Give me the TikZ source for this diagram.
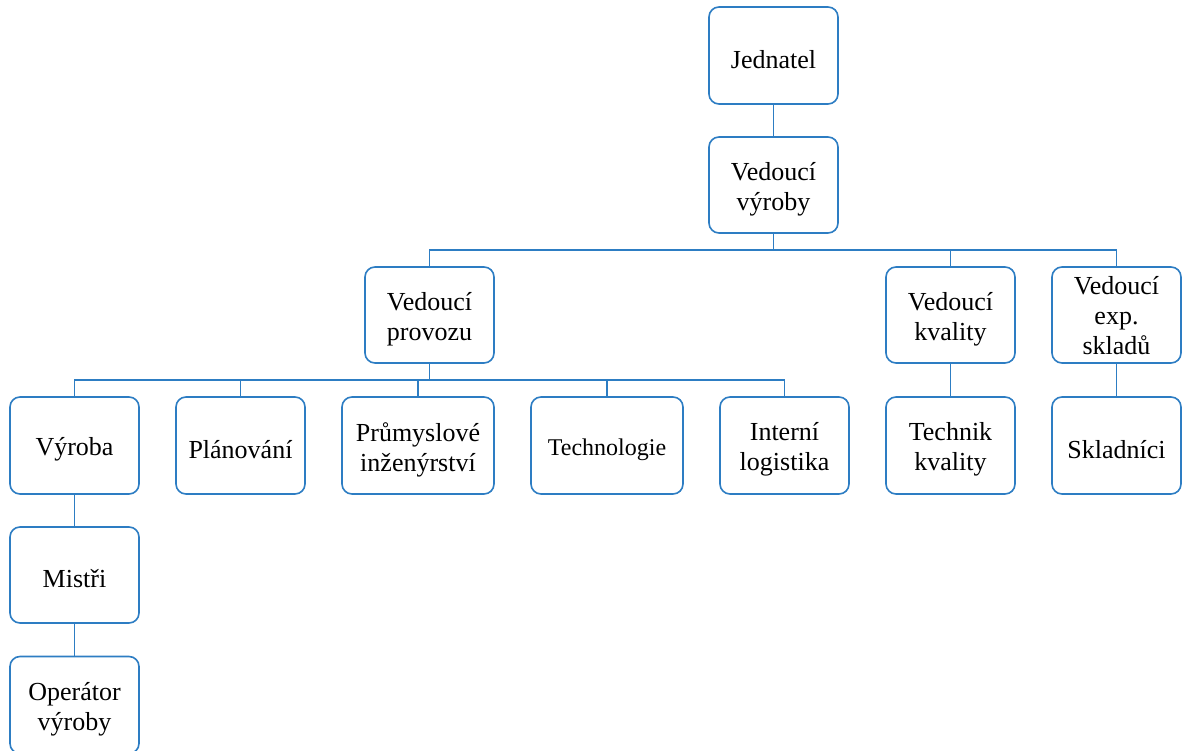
\documentclass[tikz,border=0pt]{standalone}
\usepackage{fontspec}
\setmainfont{Liberation Serif}
\definecolor{orgblue}{RGB}{45,125,195}
\tikzset{
  unit/.style={draw=orgblue, line width=1.6pt, rounded corners=10pt, fill=white,
    minimum width=129pt, minimum height=97pt, inner sep=0pt},
  wideunit/.style={unit, minimum width=152pt},
  caption/.style={align=center, inner sep=0pt, font=\fontsize{26}{30}\selectfont},
  link/.style={draw=orgblue, line width=1.5pt}
}
% a box with its caption set a little below the centre
\newcommand\orgunit[4][]{%
  \node[unit,#1] (#2) at (#3) {};
  \node[caption] at ([yshift=-4pt]#2.center) {#4};}
\begin{document}
\begin{tikzpicture}[x=1pt, y=-1pt]
\useasboundingbox (0,0) rectangle (1184,751);

% top of the hierarchy
\orgunit{jed}{773.5,55.5}{Jednatel}
\orgunit[minimum height=96pt]{vvy}{773.5,185}{Vedoucí\\výroby}

% second level
\orgunit[minimum height=96pt]{vpr}{429.5,315}{Vedoucí\\provozu}
\orgunit[minimum height=96pt]{vkv}{950.5,315}{Vedoucí\\kvality}
\node[unit, minimum height=96pt] (vex) at (1116.5,315) {};
\node[caption] at ([yshift=-1pt]vex.center) {Vedoucí\\exp.\\skladů};

% third level
\orgunit{vyr}{74.5,445.5}{Výroba}
\orgunit{pla}{240.5,445.5}{Plánování}
\orgunit[wideunit]{pru}{418,445.5}{Průmyslové\\inženýrství}
\orgunit[wideunit]{tec}{607,445.5}{\fontsize{24}{28}\selectfont Technologie}
\orgunit{int}{784.5,445.5}{Interní\\logistika}
\orgunit{tkv}{950.5,445.5}{Technik\\kvality}
\orgunit{skl}{1116.5,445.5}{Skladníci}

% production branch
\orgunit[minimum height=96pt]{mis}{74.5,575}{Mistři}
\orgunit{ope}{74.5,705}{Operátor\\výroby}

% bus junctions
\coordinate (b1) at (773.5,250);
\coordinate (b2) at (429.5,380);

% connectors
\draw[link] (jed.south) -- (vvy.north);
\draw[link] (vvy.south) -- (b1);
\draw[link] (vpr.north) -- (vpr.north |- b1) -- (vex.north |- b1) -- (vex.north);
\draw[link] (vkv.north) -- (vkv.north |- b1);

\draw[link] (vpr.south) -- (b2);
\draw[link] (vyr.north) -- (vyr.north |- b2) -- (int.north |- b2) -- (int.north);
\draw[link] (pla.north) -- (pla.north |- b2);
\draw[link] (pru.north) -- (pru.north |- b2);
\draw[link] (tec.north) -- (tec.north |- b2);

\draw[link] (vkv.south) -- (tkv.north);
\draw[link] (vex.south) -- (skl.north);
\draw[link] (vyr.south) -- (mis.north);
\draw[link] (mis.south) -- (ope.north);
\end{tikzpicture}
\end{document}
